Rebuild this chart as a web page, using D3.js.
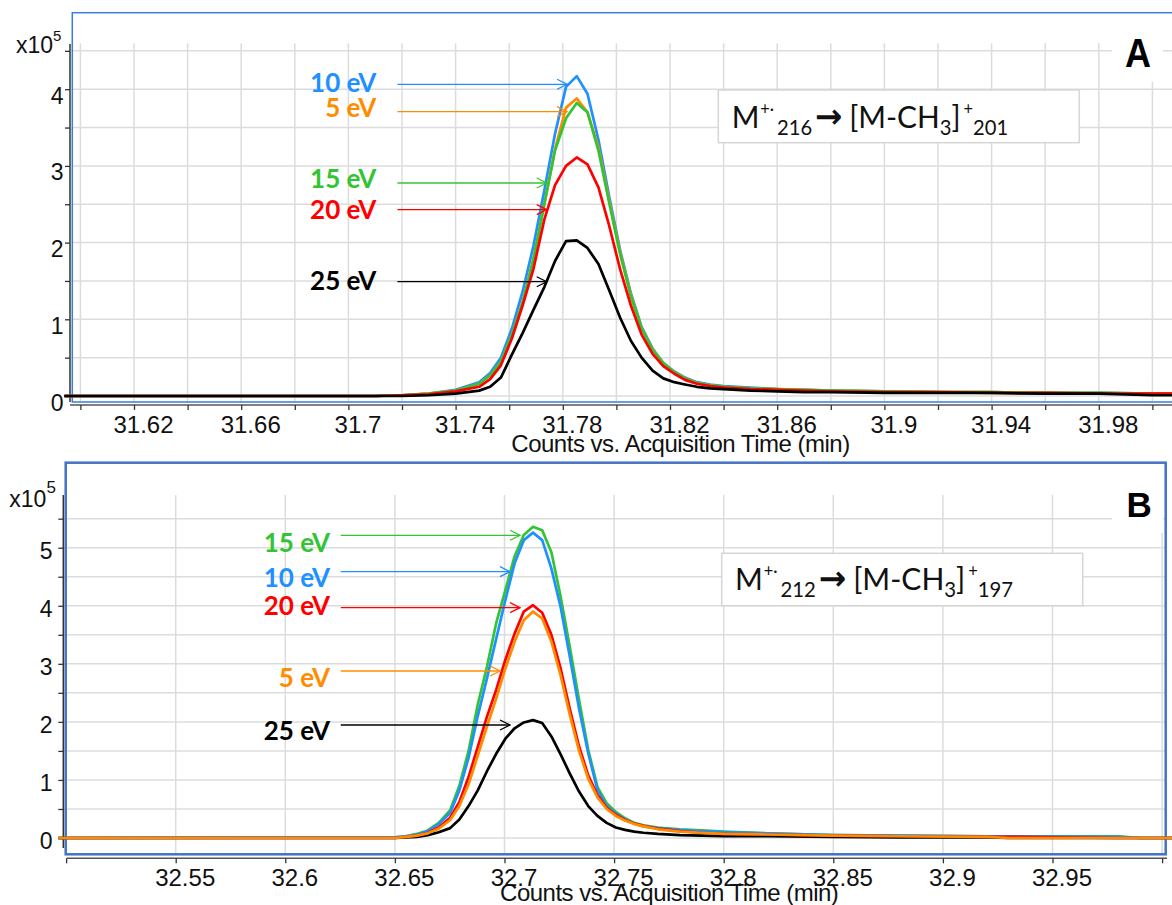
<!DOCTYPE html>
<html><head><meta charset="utf-8">
<script src="https://cdn.jsdelivr.net/npm/d3@7"></script>
<style>
html,body{margin:0;padding:0;background:#fff;}
svg{display:block;}
</style></head><body>
<svg id="chart" width="1172" height="905"></svg>
<script>
// ---------------- DATA ----------------
const energies = ["5 eV", "10 eV", "15 eV", "20 eV", "25 eV"];

// Panel A : M+. 216 -> [M-CH3]+ 201   (counts x10^5 vs time, min)
const timeA = [31.594, 31.71, 31.72, 31.73, 31.74,
  31.7488, 31.7529, 31.7569, 31.7610, 31.7650, 31.7690, 31.7731, 31.7771, 31.7812, 31.7852,
  31.7892, 31.7933, 31.7973, 31.8014, 31.8054, 31.8094, 31.8135, 31.8175, 31.8216, 31.8256,
  31.83, 31.835, 31.84, 31.85, 31.86, 31.87, 31.88, 31.90, 31.92, 31.94, 31.96, 31.98, 32.00, 32.012];
const a5eV = [0, 0, 0.01, 0.03, 0.07,
  0.16, 0.27, 0.45, 0.80, 1.22, 1.78, 2.50, 3.22, 3.76, 3.88, 3.70, 3.24, 2.55, 1.87, 1.32, 0.88, 0.61, 0.43, 0.31, 0.23,
  0.17, 0.14, 0.12, 0.10, 0.09, 0.08, 0.07, 0.06, 0.05, 0.05, 0.04, 0.04, 0.03, 0.03];
const a10eV = [0, 0, 0.01, 0.03, 0.08,
  0.18, 0.30, 0.50, 0.88, 1.36, 1.95, 2.68, 3.42, 4.03, 4.17, 3.94, 3.34, 2.60, 1.90, 1.34, 0.90, 0.62, 0.43, 0.32, 0.24,
  0.18, 0.15, 0.13, 0.11, 0.09, 0.08, 0.07, 0.06, 0.05, 0.05, 0.04, 0.04, 0.03, 0.03];
const a15eV = [0, 0, 0.01, 0.03, 0.07,
  0.16, 0.27, 0.45, 0.80, 1.22, 1.78, 2.50, 3.20, 3.62, 3.82, 3.70, 3.20, 2.52, 1.85, 1.30, 0.88, 0.60, 0.43, 0.31, 0.23,
  0.17, 0.14, 0.12, 0.10, 0.09, 0.08, 0.07, 0.06, 0.05, 0.05, 0.04, 0.04, 0.03, 0.03];
const a20eV = [0, 0, 0.01, 0.02, 0.06,
  0.12, 0.22, 0.40, 0.75, 1.18, 1.65, 2.30, 2.75, 3.00, 3.11, 3.02, 2.72, 2.22, 1.65, 1.18, 0.80, 0.55, 0.39, 0.29, 0.21,
  0.16, 0.13, 0.11, 0.09, 0.08, 0.07, 0.06, 0.05, 0.05, 0.04, 0.04, 0.03, 0.03, 0.03];
const a25eV = [0, 0, 0, 0.01, 0.03,
  0.07, 0.12, 0.24, 0.54, 0.82, 1.12, 1.42, 1.76, 2.02, 2.03, 1.93, 1.72, 1.38, 1.02, 0.72, 0.50, 0.33, 0.23, 0.18, 0.15,
  0.12, 0.10, 0.09, 0.07, 0.06, 0.05, 0.05, 0.04, 0.04, 0.04, 0.03, 0.03, 0.01, 0.01];

// Panel B : M+. 212 -> [M-CH3]+ 197
const timeB = [32.4965, 32.65, 32.655, 32.66, 32.665, 32.67,
  32.6752, 32.6794, 32.6836, 32.6878, 32.6920, 32.6962, 32.7004, 32.7046, 32.7088, 32.7130, 32.7172,
  32.7214, 32.7256, 32.7298, 32.7340, 32.7382, 32.7424, 32.7466, 32.7508, 32.7550, 32.7592, 32.7634,
  32.77, 32.78, 32.79, 32.80, 32.82, 32.85, 32.88, 32.92, 32.93, 32.98, 32.99, 33.01];
const b5eV = [0, 0, 0.02, 0.04, 0.08, 0.16,
  0.31, 0.55, 0.92, 1.42, 1.92, 2.40, 2.92, 3.38, 3.75, 3.90, 3.78, 3.38, 2.80, 2.12, 1.50, 1.02, 0.70, 0.50, 0.38, 0.30, 0.24, 0.20,
  0.15, 0.11, 0.09, 0.07, 0.06, 0.04, 0.03, 0.02, 0, 0, 0, 0];
const b10eV = [0, 0.01, 0.03, 0.06, 0.12, 0.24,
  0.43, 0.82, 1.38, 2.10, 2.75, 3.43, 4.10, 4.73, 5.13, 5.26, 5.13, 4.64, 3.98, 3.12, 2.23, 1.46, 0.83, 0.55, 0.42, 0.32, 0.25, 0.20,
  0.17, 0.14, 0.12, 0.10, 0.08, 0.05, 0.04, 0.03, 0.03, 0.02, 0, 0];
const b15eV = [0, 0.01, 0.03, 0.07, 0.13, 0.26,
  0.48, 0.90, 1.50, 2.30, 2.95, 3.70, 4.27, 4.85, 5.22, 5.36, 5.30, 4.92, 4.16, 3.29, 2.38, 1.52, 0.88, 0.60, 0.45, 0.34, 0.26, 0.22,
  0.18, 0.15, 0.13, 0.11, 0.08, 0.05, 0.04, 0.03, 0.03, 0.03, 0, 0];
const b20eV = [0, 0, 0.02, 0.04, 0.09, 0.18,
  0.35, 0.62, 1.05, 1.57, 2.09, 2.55, 3.07, 3.52, 3.90, 4.01, 3.88, 3.50, 2.92, 2.22, 1.58, 1.08, 0.74, 0.52, 0.40, 0.31, 0.25, 0.21,
  0.16, 0.12, 0.09, 0.07, 0.06, 0.04, 0.03, 0.02, 0.02, 0, 0, 0];
const b25eV = [0, 0, 0.01, 0.02, 0.05, 0.10,
  0.17, 0.32, 0.55, 0.82, 1.15, 1.45, 1.71, 1.89, 1.99, 2.03, 1.98, 1.75, 1.44, 1.11, 0.80, 0.55, 0.38, 0.26, 0.18, 0.14, 0.11, 0.09,
  0.07, 0.05, 0.04, 0.03, 0.03, 0.02, 0.01, 0.01, 0, 0, 0, 0];

// Ticks
const xTicksA = [31.60, 31.62, 31.64, 31.66, 31.68, 31.70, 31.72, 31.74, 31.76, 31.78, 31.80,
  31.82, 31.84, 31.86, 31.88, 31.90, 31.92, 31.94, 31.96, 31.98, 32.00];
const xTickLabelsA = ["31.62", "31.66", "31.7", "31.74", "31.78", "31.82", "31.86", "31.9", "31.94", "31.98"];
const yTicksA = [0, 0.5, 1, 1.5, 2, 2.5, 3, 3.5, 4, 4.5];
const yTickLabelsA = ["0", "1", "2", "3", "4"];
const xTicksB = [32.50, 32.55, 32.60, 32.65, 32.70, 32.75, 32.80, 32.85, 32.90, 32.95, 33.00];
const xTickLabelsB = ["32.55", "32.6", "32.65", "32.7", "32.75", "32.8", "32.85", "32.9", "32.95"];
const yTicksB = [0, 0.5, 1, 1.5, 2, 2.5, 3, 3.5, 4, 4.5, 5, 5.5];
const yTickLabelsB = ["0", "1", "2", "3", "4", "5"];

// Annotations (label, arrow level in x10^5 counts, arrow tip time)
const annotLabelsA = ["10 eV", "5 eV", "15 eV", "20 eV", "25 eV"];
const annotLevelsA = [4.064, 3.707, 2.777, 2.430, 1.490];
const annotTipsA = [31.7816, 31.7816, 31.7740, 31.7740, 31.7740];
const annotStartA = 31.7183;
const annotLabelsB = ["15 eV", "10 eV", "20 eV", "5 eV", "25 eV"];
const annotLevelsB = [5.214, 4.587, 3.967, 2.876, 1.946];
const annotTipsB = [32.7071, 32.7025, 32.7071, 32.6980, 32.7025];
const annotStartB = 32.6253;

const transitionA = ["M", "+·", "216", "→", "[M-CH", "3", "]", "+", "201"];
const transitionB = ["M", "+·", "212", "→", "[M-CH", "3", "]", "+", "197"];
const axisTitle = "Counts vs. Acquisition Time (min)";

// ---------------- STYLE ----------------
const colors = {"5 eV": "#ff8c00", "10 eV": "#1e90ff", "15 eV": "#33c433", "20 eV": "#ff0000", "25 eV": "#000000"};
const gridColor = "#dcdcdc";
const axisFont = "'Liberation Sans', Arial, sans-serif";
const labelFont = "Lato, Carlito, 'Open Sans', sans-serif";

const svg = d3.select("#chart");
svg.append("rect").attr("width", 1172).attr("height", 905).attr("fill", "#fff");

function drawPanel(c) {
  const g = svg.append("g");
  const x = d3.scaleLinear().domain(c.xDomain).range(c.xRange);
  const y = d3.scaleLinear().domain(c.yDomain).range(c.yRange);
  const frameBottom = c.frame[1] + c.frame[3];

  // grid
  g.append("g").selectAll("line").data(c.xGrid).join("line")
    .attr("x1", d => x(d)).attr("x2", d => x(d))
    .attr("y1", c.gridTop).attr("y2", frameBottom)
    .attr("stroke", gridColor).attr("stroke-width", 1.5);
  g.append("g").selectAll("line").data(c.yGrid).join("line")
    .attr("x1", c.hGrid[0]).attr("x2", c.hGrid[1])
    .attr("y1", d => y(d)).attr("y2", d => y(d))
    .attr("stroke", gridColor).attr("stroke-width", 1.5);

  // white box behind panel letter
  g.append("rect").attr("x", c.letterBox[0]).attr("y", c.letterBox[1])
    .attr("width", c.letterBox[2]).attr("height", c.letterBox[3]).attr("fill", "#fff");
  g.append("text").attr("x", 0).attr("y", 0)
    .attr("transform", `translate(${c.letterPos[0]},${c.letterPos[1]}) scale(${c.letterScale},1)`)
    .attr("font-family", axisFont).attr("font-weight", "bold").attr("font-size", c.letterSize)
    .attr("fill", "#000").text(c.letter);

  // info box
  g.append("rect").attr("x", c.infoBox[0]).attr("y", c.infoBox[1])
    .attr("width", c.infoBox[2]).attr("height", c.infoBox[3])
    .attr("fill", "#fff").attr("stroke", "#d6d6d6").attr("stroke-width", 1.5);
  infoText(g, c.infoText[0], c.infoText[1], c.infoText[2], c.transition);

  // frame
  g.append("rect").attr("x", c.frame[0]).attr("y", c.frame[1])
    .attr("width", c.frame[2]).attr("height", c.frame[3])
    .attr("fill", "none").attr("stroke", c.frameColor).attr("stroke-width", c.frameWidth);

  // y axis
  g.append("line").attr("x1", c.yAxisX).attr("x2", c.yAxisX)
    .attr("y1", c.yAxisSpan[0]).attr("y2", c.yAxisSpan[1])
    .attr("stroke", "#333").attr("stroke-width", 1.5);
  g.append("g").attr("transform", `translate(${c.yAxisX},0)`)
    .call(d3.axisLeft(y).tickValues(c.yTicks).tickSize(5).tickFormat(""))
    .call(s => s.select(".domain").remove())
    .call(s => s.selectAll("line").attr("stroke", "#333").attr("stroke-width", 1.3));
  g.append("g").attr("transform", `translate(${c.yAxisX},0)`)
    .call(d3.axisLeft(y).tickValues(c.yLabels.map(Number)).tickSize(0).tickFormat((d, i) => c.yLabels[i]))
    .call(s => s.select(".domain").remove())
    .call(s => s.selectAll("text").attr("x", c.yLabelRight - c.yAxisX).attr("dy", null)
      .attr("y", c.yLabelDy).attr("font-family", axisFont).attr("font-size", 23).attr("fill", "#111"));

  // x axis
  g.append("line").attr("x1", c.xAxisSpan[0]).attr("x2", c.xAxisSpan[1])
    .attr("y1", c.xAxisY).attr("y2", c.xAxisY)
    .attr("stroke", "#555").attr("stroke-width", 1.5);
  g.append("g").attr("transform", `translate(0,${c.xAxisY})`)
    .call(d3.axisBottom(x).tickValues(c.xTicks).tickSize(5).tickFormat(""))
    .call(s => s.select(".domain").remove())
    .call(s => s.selectAll("line").attr("stroke", "#333").attr("stroke-width", 1.3));
  g.append("g").attr("transform", `translate(0,${c.xAxisY})`)
    .call(d3.axisBottom(x).tickValues(c.xLabels.map(Number)).tickSize(0).tickFormat((d, i) => c.xLabels[i]))
    .call(s => s.select(".domain").remove())
    .call(s => s.selectAll("text").attr("y", 28).attr("dy", null).attr("dx", 9)
      .attr("font-family", axisFont).attr("font-size", 24).attr("fill", "#111"));

  // axis title
  g.append("text").attr("x", c.titlePos[0]).attr("y", c.titlePos[1])
    .attr("text-anchor", "middle").attr("font-family", axisFont).attr("font-size", 24)
    .attr("letter-spacing", -0.5).attr("fill", "#111").text(axisTitle);

  // x10^5
  const m = g.append("text").attr("x", c.expPos[0]).attr("y", c.expPos[1])
    .attr("font-family", axisFont).attr("font-size", 23).attr("fill", "#111");
  m.append("tspan").text("x10");
  m.append("tspan").attr("font-size", c.expSupSize).attr("dy", c.expSupDy).text("5");

  // series
  const line = d3.line().x(d => x(d.t)).y(d => y(d.v));
  c.order.forEach(name => {
    const vals = c.series[name];
    const pts = c.time.map((t, i) => ({t: t, v: vals[i]}));
    g.append("path").datum(pts).attr("d", line)
      .attr("fill", "none").attr("stroke", colors[name]).attr("stroke-width", 2.7)
      .attr("stroke-linejoin", "round");
  });

  // annotations
  c.annotLabels.forEach((lab, i) => {
    const yy = y(c.annotLevels[i]);
    const x0 = x(c.annotStart), x1 = x(c.annotTips[i]);
    g.append("line").attr("x1", x0).attr("x2", x1).attr("y1", yy).attr("y2", yy)
      .attr("stroke", colors[lab]).attr("stroke-width", 1.3);
    g.append("path").attr("d", `M${x1 - 10},${yy - 5}L${x1},${yy}L${x1 - 10},${yy + 5}`)
      .attr("fill", "none").attr("stroke", colors[lab]).attr("stroke-width", 1.3);
    g.append("text").attr("x", x0 - c.annotGap).attr("y", yy + c.annotDy[i])
      .attr("text-anchor", "end").attr("font-family", labelFont).attr("font-weight", "bold")
      .attr("font-size", 26).attr("fill", colors[lab]).text(lab);
  });
}

function infoText(g, x0, base, targetW, p) {
  const grp = g.append("g").attr("transform", `translate(${x0},${base})`);
  const t = grp.append("text").attr("x", 0).attr("y", 0)
    .attr("font-family", labelFont).attr("font-size", 31).attr("fill", "#111");
  // levels: main 0, sup -13, sub +7
  t.append("tspan").text(p[0]);
  t.append("tspan").attr("font-size", 17).attr("dy", -13).attr("dx", 1).text(p[1]);
  t.append("tspan").attr("font-size", 21).attr("dy", 20).attr("dx", 3).text(p[2]);
  t.append("tspan").attr("font-family", "'DejaVu Sans', sans-serif").attr("font-weight", "bold")
    .attr("font-size", 34).attr("dy", -7).attr("dx", 3).text(p[3]);
  t.append("tspan").attr("dx", 7).text(p[4]);
  t.append("tspan").attr("font-size", 21).attr("dy", 7).text(p[5]);
  t.append("tspan").attr("dy", -7).text(p[6]);
  t.append("tspan").attr("font-size", 17).attr("dy", -13).attr("dx", 3).text(p[7]);
  t.append("tspan").attr("font-size", 21).attr("dy", 20).text(p[8]);
  const w = t.node().getBBox().width;
  t.attr("transform", `scale(${targetW / w},1)`);
}

drawPanel({
  xDomain: [31.60, 32.00], xRange: [80.4, 1152.4],
  yDomain: [0, 4.5], yRange: [396, 396 - 4.5 * 76.7],
  frame: [72.3, 12.7, 1110, 389.3], frameColor: "#3b7dd8", frameWidth: 1.5,
  gridTop: 43.3, hGrid: [72.3, 1172],
  xGrid: xTicksA, yGrid: yTicksA,
  letter: "A", letterPos: [1125, 66.7], letterSize: 40, letterScale: 0.9,
  letterBox: [1112, 38, 51, 43.7],
  infoBox: [718.3, 90, 361, 52.7], infoText: [731.7, 128.3, 276.6], transition: transitionA,
  yAxisX: 70, yAxisSpan: [44, 402], yTicks: yTicksA, yLabels: yTickLabelsA, yLabelRight: 63.5, yLabelDy: 14,
  xAxisY: 405, xAxisSpan: [70, 1172], xTicks: xTicksA, xLabels: xTickLabelsA,
  titlePos: [680.5, 451.7], expPos: [16, 53.3], expSupSize: 15, expSupDy: -12,
  time: timeA,
  series: {"5 eV": a5eV, "10 eV": a10eV, "15 eV": a15eV, "20 eV": a20eV, "25 eV": a25eV},
  order: ["10 eV", "5 eV", "15 eV", "20 eV", "25 eV"],
  annotLabels: annotLabelsA, annotLevels: annotLevelsA, annotTips: annotTipsA, annotStart: annotStartA,
  annotGap: 21, annotDy: [7.4, 5, 5.3, 9, 8.3]
});

drawPanel({
  xDomain: [32.5, 33.0], xRange: [66.1, 1162.1],
  yDomain: [0, 5.5], yRange: [838, 838 - 5.5 * 58.06],
  frame: [65.7, 462.7, 1100, 391.6], frameColor: "#4472c4", frameWidth: 2.5,
  gridTop: 495, hGrid: [63.3, 1165.7],
  xGrid: xTicksB.filter(d => d > 32.5), yGrid: yTicksB,
  letter: "B", letterPos: [1126.5, 516.7], letterSize: 35, letterScale: 1,
  letterBox: [1112, 470, 51, 63],
  infoBox: [721.7, 553.3, 361, 52.4], infoText: [735, 590, 278.3], transition: transitionB,
  yAxisX: 63.3, yAxisSpan: [495, 848], yTicks: yTicksB, yLabels: yTickLabelsB, yLabelRight: 52.5, yLabelDy: 10.5,
  xAxisY: 858.3, xAxisSpan: [66.7, 1167], xTicks: xTicksB, xLabels: xTickLabelsB,
  titlePos: [669.2, 901], expPos: [9.3, 506.7], expSupSize: 17, expSupDy: -14,
  time: timeB,
  series: {"5 eV": b5eV, "10 eV": b10eV, "15 eV": b15eV, "20 eV": b20eV, "25 eV": b25eV},
  order: ["25 eV", "15 eV", "10 eV", "20 eV", "5 eV"],
  annotLabels: annotLabelsB, annotLevels: annotLevelsB, annotTips: annotTipsB, annotStart: annotStartB,
  annotGap: 10.7, annotDy: [16.4, 15.6, 7.3, 15.7, 15]
});
</script>
</body></html>
